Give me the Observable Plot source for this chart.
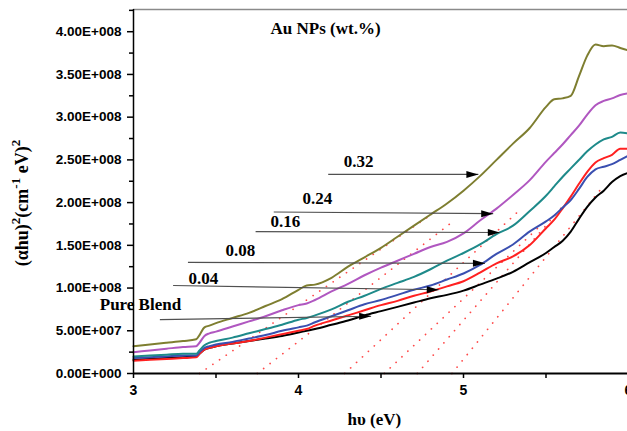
<!DOCTYPE html>
<html><head><meta charset="utf-8">
<script src="https://cdn.jsdelivr.net/npm/d3@7"></script>
<script src="https://cdn.jsdelivr.net/npm/@observablehq/plot@0.6"></script>
<style>body{margin:0;background:#fff}#chart svg{display:block}</style>
</head><body><div id="chart"></div>
<script>
// ---- data (y values in units of 1e8) ----
const UNIT = 1e8;
const energy = [3.0,3.1,3.2,3.3,3.38,3.40,3.43,3.46,3.5,3.6,3.7,3.8,3.9,4.0,4.05,4.1,4.2,4.3,4.4,4.5,4.6,4.7,4.8,4.9,5.0,5.1,5.2,5.3,5.4,5.5,5.55,5.6,5.65,5.7,5.75,5.8,5.85,5.9,5.95,6.0];
const pureBlend = [0.16,0.17,0.18,0.19,0.20,0.23,0.28,0.30,0.32,0.35,0.38,0.41,0.44,0.48,0.50,0.52,0.57,0.62,0.68,0.73,0.78,0.83,0.88,0.92,0.97,1.04,1.11,1.19,1.30,1.41,1.48,1.55,1.66,1.81,1.95,2.06,2.14,2.24,2.31,2.35];
const au004 = [0.15,0.16,0.17,0.18,0.19,0.23,0.28,0.30,0.32,0.35,0.38,0.42,0.46,0.50,0.52,0.56,0.62,0.68,0.74,0.80,0.85,0.91,0.96,1.02,1.08,1.18,1.29,1.37,1.50,1.70,1.80,1.93,2.07,2.22,2.36,2.47,2.52,2.56,2.63,2.63];
const au008 = [0.18,0.19,0.20,0.21,0.21,0.25,0.30,0.32,0.34,0.37,0.41,0.45,0.50,0.54,0.56,0.60,0.67,0.74,0.81,0.86,0.92,0.98,1.03,1.10,1.17,1.27,1.40,1.51,1.66,1.78,1.85,1.94,2.03,2.16,2.30,2.39,2.42,2.45,2.50,2.55];
const au016 = [0.20,0.21,0.22,0.23,0.23,0.27,0.33,0.36,0.38,0.42,0.47,0.52,0.57,0.63,0.65,0.68,0.75,0.84,0.91,0.99,1.06,1.13,1.22,1.32,1.41,1.51,1.63,1.73,1.90,2.08,2.19,2.30,2.40,2.50,2.60,2.68,2.74,2.77,2.82,2.81];
const au024 = [0.25,0.27,0.29,0.31,0.32,0.36,0.44,0.47,0.49,0.55,0.61,0.67,0.74,0.80,0.82,0.86,0.96,1.05,1.15,1.24,1.32,1.40,1.48,1.54,1.64,1.79,1.93,2.09,2.26,2.48,2.58,2.68,2.79,2.90,3.03,3.14,3.19,3.22,3.26,3.28];
const au032 = [0.32,0.34,0.36,0.38,0.40,0.45,0.54,0.56,0.59,0.65,0.71,0.79,0.87,0.98,1.03,1.04,1.12,1.25,1.36,1.47,1.60,1.73,1.86,1.99,2.14,2.31,2.50,2.69,2.87,3.12,3.21,3.22,3.25,3.48,3.72,3.85,3.83,3.84,3.81,3.78];

const seriesNames = ["Pure Blend","0.04","0.08","0.16","0.24","0.32"];
const seriesValues = [pureBlend, au004, au008, au016, au024, au032];
const seriesColors = ["#000000","#ff2020","#3a4fb0","#1e8a8a","#b057c0","#7e7e30"];

// linear-fit (dotted) extrapolations: [x at zero, x end, y end]
const fitStartX = [4.93, 4.72, 4.52, 4.28, 3.75, 3.40];
const fitEndX   = [5.85, 5.62, 5.45, 5.35, 4.95, 4.85];
const fitEndY   = [2.20, 2.00, 1.70, 1.93, 1.80, 1.92];

// arrows: start (x,y) -> tip (x,y)
const arrowX1 = [3.16, 3.24, 3.33, 3.74, 3.85, 4.18];
const arrowY1 = [0.63, 1.03, 1.30, 1.66, 1.89, 2.33];
const arrowX2 = [4.44, 4.85, 5.13, 5.22, 5.18, 5.09];
const arrowY2 = [0.67, 0.98, 1.29, 1.65, 1.87, 2.33];
// label anchor points for each arrow
const labelX = [3.042, 3.424, 3.648, 3.921, 4.115, 4.364];
const labelY = [0.81, 1.11, 1.44, 1.78, 2.05, 2.48];

const xMajor = [3, 4, 5, 6];
const xMinor = [3.5, 4.5, 5.5];
const yMajor = [0, 0.5, 1, 1.5, 2, 2.5, 3, 3.5, 4].map(v => v * UNIT);
const yMinor = [0.25, 0.75, 1.25, 1.75, 2.25, 2.75, 3.25, 3.75, 4.25].map(v => v * UNIT);
const yMax = 4.26 * UNIT;

// ---- tables ----
const rows = [];
seriesNames.forEach((s, i) => energy.forEach((e, j) => rows.push({x: e, y: seriesValues[i][j] * UNIT, series: s})));
const fits = [];
seriesNames.forEach((s, i) => {
  fits.push({x: fitStartX[i], y: 0, series: s});
  fits.push({x: fitEndX[i], y: fitEndY[i] * UNIT, series: s});
});
const arrows = seriesNames.map((s, i) => ({x1: arrowX1[i], y1: arrowY1[i] * UNIT, x2: arrowX2[i], y2: arrowY2[i] * UNIT, series: s}));
const labels = seriesNames.map((s, i) => ({x: labelX[i], y: labelY[i] * UNIT, text: s, anchor: i === 0 ? "start" : "middle"}));

function sci(v) {
  if (v === 0) return "0.00E+000";
  const e = Math.floor(Math.log10(v) + 1e-9);
  const m = v / Math.pow(10, e);
  return m.toFixed(2) + "E+" + String(e).padStart(3, "0");
}

const arrowHead = {draw(ctx) { ctx.moveTo(0, 0); ctx.lineTo(-12, -3.5); ctx.lineTo(-12, 3.5); ctx.closePath(); }};
const serif = "Liberation Serif, Times New Roman, serif";

const chart = Plot.plot({
  width: 627, height: 431,
  marginLeft: 133, marginRight: -1, marginTop: 9, marginBottom: 58,
  style: {fontFamily: "Liberation Sans, Arial, sans-serif", fontWeight: "bold", background: "#fff"},
  x: {domain: [3, 6], range: [133, 628]},
  y: {domain: [0, yMax], range: [373, 9]},
  color: {domain: seriesNames, range: seriesColors},
  marks: [
    Plot.ruleY([yMax], {stroke: "#8a8a8a", strokeWidth: 1.5}),
    Plot.line(fits, {x: "x", y: "y", z: "series", stroke: "#ff4848", strokeWidth: 1.7, strokeDasharray: "0.1 8", strokeLinecap: "round"}),
    Plot.line(rows, {x: "x", y: "y", z: "series", stroke: "series", strokeWidth: 2, curve: "monotone-x"}),
    Plot.link(arrows, {x1: "x1", y1: "y1", x2: "x2", y2: "y2", stroke: "#505050", strokeWidth: 1.2}),
    Plot.dot(arrows, {x: "x2", y: "y2", symbol: arrowHead, fill: "#000", stroke: null, r: 4}),
    Plot.text(labels, {x: "x", y: "y", text: "text", textAnchor: "anchor", fontFamily: serif, fontWeight: "bold", fontSize: 17, fill: "#000"}),
    Plot.text([{x: 4.164, y: 4.035 * UNIT, t: "Au NPs (wt.%)"}], {x: "x", y: "y", text: "t", fontFamily: serif, fontWeight: "bold", fontSize: 17, fill: "#000"}),
    Plot.text([{x: 4.46, t: "h\u03c5 (eV)"}], {x: "x", text: "t", frameAnchor: "bottom", dy: 51, fontFamily: serif, fontWeight: "bold", fontSize: 17, fill: "#000"}),
    Plot.ruleX([3], {stroke: "#000", strokeWidth: 1.5}),
    Plot.ruleY([0], {stroke: "#000", strokeWidth: 2}),
    Plot.axisY(yMajor, {tickSize: 6, tickPadding: 6, tickFormat: sci, fontSize: 13.5, fontWeight: "bold", strokeWidth: 1.5, label: null}),
    Plot.axisY(yMinor, {tickSize: 4, tickFormat: () => "", strokeWidth: 1.5, label: null}),
    Plot.axisX(xMajor, {tickSize: 5, tickPadding: 7, tickFormat: d => String(d), fontSize: 14, fontWeight: "bold", strokeWidth: 1.5, label: null}),
    Plot.axisX(xMinor, {tickSize: 5, tickFormat: () => "", strokeWidth: 1.5, label: null})
  ]
});
document.getElementById("chart").appendChild(chart);

// rotated y-axis title with superscripts
const svg = d3.select(chart);
const yt = svg.append("text")
  .attr("transform", "translate(28,203) rotate(-90)")
  .attr("text-anchor", "middle")
  .attr("font-family", serif).attr("font-weight", "bold").attr("font-size", 18).attr("fill", "#000");
yt.append("tspan").text("(\u03b1hu)");
yt.append("tspan").attr("dy", -8).attr("font-size", 13).text("2");
yt.append("tspan").attr("dy", 8).text("(cm");
yt.append("tspan").attr("dy", -8).attr("font-size", 13).text("-1");
yt.append("tspan").attr("dy", 8).text(" eV)");
yt.append("tspan").attr("dy", -8).attr("font-size", 13).text("2");
</script></body></html>
